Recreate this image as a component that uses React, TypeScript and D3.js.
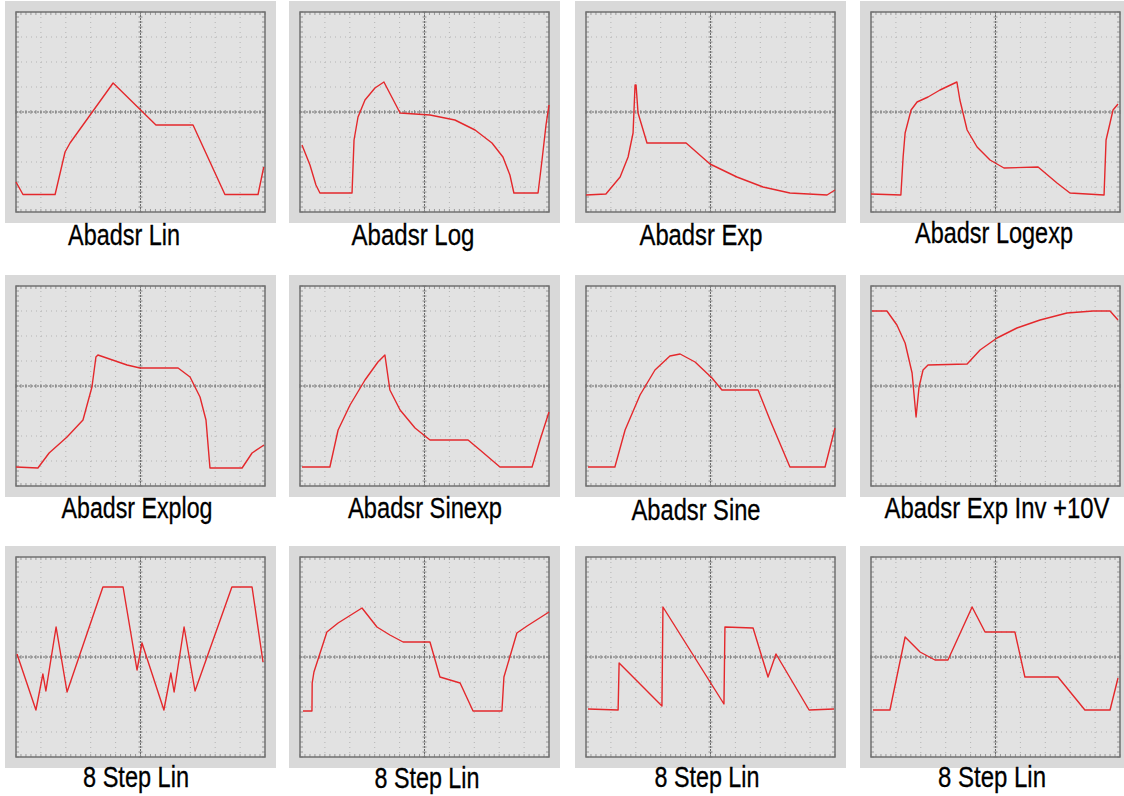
import React, { useEffect, useRef } from 'react';
import * as d3 from 'd3';

// Traces in scope divisions: x 0..10, y -4..4 (0 = centre line)
const abadsrLin = [[0, -2.8], [0.28, -3.3], [1.57, -3.3], [1.97, -1.6], [2.17, -1.24], [3.9, 1.16], [5.62, -0.52], [7.11, -0.52], [8.39, -3.3], [9.72, -3.3], [9.95, -2.2]];
const abadsrLog = [[0.08, -1.32], [0.4, -2.12], [0.64, -2.92], [0.8, -3.24], [2.09, -3.24], [2.17, -1.12], [2.33, -0.2], [2.61, 0.48], [3.01, 0.96], [3.37, 1.2], [4.02, -0.04], [5.22, -0.12], [6.22, -0.32], [7.03, -0.72], [7.71, -1.24], [8.15, -1.8], [8.43, -2.52], [8.59, -3.24], [9.56, -3.24], [9.72, -1.92], [9.88, -0.52], [10, 0.28]];
const abadsrExp = [[0, -3.32], [0.8, -3.28], [1.37, -2.6], [1.69, -1.8], [1.89, -0.84], [1.97, 1.08], [2.01, 1.08], [2.09, -0.04], [2.45, -1.24], [4.02, -1.24], [4.98, -2.08], [6.06, -2.6], [7.11, -3.0], [8.19, -3.24], [9.68, -3.32], [10, -3.12]];
const abadsrLogexp = [[0, -3.28], [1.2, -3.32], [1.29, -1.8], [1.37, -0.84], [1.61, 0.08], [1.85, 0.4], [2.29, 0.6], [2.77, 0.88], [3.45, 1.2], [3.57, 0.48], [3.86, -0.72], [4.26, -1.4], [4.78, -1.92], [5.34, -2.24], [6.71, -2.2], [7.47, -2.84], [7.99, -3.24], [9.36, -3.32], [9.44, -1.12], [9.6, -0.44], [9.72, 0.08], [9.92, 0.32]];
const abadsrExplog = [[0, -3.24], [0.88, -3.28], [1.33, -2.68], [2.05, -2.04], [2.69, -1.36], [3.05, -0.04], [3.21, 1.16], [3.29, 1.24], [4.46, 0.84], [4.98, 0.72], [6.51, 0.72], [6.99, 0.36], [7.39, -0.44], [7.63, -1.36], [7.79, -3.28], [9.08, -3.28], [9.48, -2.68], [9.96, -2.36]];
const abadsrSinexp = [[0.08, -3.24], [1.2, -3.24], [1.53, -1.76], [2.01, -0.76], [2.61, 0.24], [3.13, 0.96], [3.41, 1.24], [3.61, -0.16], [4.02, -0.96], [4.62, -1.68], [5.22, -2.16], [6.75, -2.16], [7.23, -2.56], [8.03, -3.24], [9.32, -3.24], [9.64, -2.16], [10, -1.04]];
const abadsrSine = [[0.08, -3.24], [1.16, -3.24], [1.57, -1.76], [2.17, -0.36], [2.77, 0.64], [3.37, 1.2], [3.78, 1.28], [4.38, 0.96], [5.06, 0.32], [5.46, -0.16], [6.91, -0.16], [7.39, -1.36], [8.19, -3.24], [9.6, -3.24], [10, -1.68]];
const abadsrExpInv = [[0.04, 3.0], [0.64, 3.0], [1.04, 2.44], [1.37, 1.72], [1.65, 0.52], [1.81, -1.24], [1.93, -0.04], [2.09, 0.64], [2.29, 0.84], [3.86, 0.88], [4.38, 1.44], [5.06, 1.92], [5.86, 2.32], [6.79, 2.64], [7.87, 2.92], [8.92, 3.0], [9.6, 3.0], [9.92, 2.64]];
const step8A = [[0.04, 0.12], [0.8, -2.12], [1.08, -0.68], [1.2, -1.36], [1.61, 1.2], [2.05, -1.4], [3.49, 2.8], [4.3, 2.8], [4.86, -0.52], [5.06, 0.56], [5.94, -2.12], [6.22, -0.64], [6.35, -1.4], [6.75, 1.2], [7.19, -1.36], [8.67, 2.8], [9.48, 2.8], [9.92, -0.2]];
const step8B = [[0.12, -2.16], [0.48, -2.16], [0.49, -1.04], [0.56, -0.6], [1.08, 1.0], [1.53, 1.36], [2.49, 1.96], [3.09, 1.2], [3.61, 0.88], [4.14, 0.6], [5.22, 0.6], [5.62, -0.8], [6.43, -1.04], [6.95, -2.16], [8.11, -2.16], [8.19, -0.8], [8.71, 0.96], [9.12, 1.24], [10, 1.8]];
const step8C = [[0.08, -2.08], [1.29, -2.12], [1.33, -0.24], [3.05, -1.96], [3.09, 2.0], [5.54, -1.88], [5.58, 1.2], [6.71, 1.16], [7.31, -0.8], [7.63, 0.12], [8.96, -2.12], [9.96, -2.08]];
const step8D = [[0.08, -2.12], [0.76, -2.12], [1.37, 0.8], [1.97, 0.2], [2.57, -0.12], [3.09, -0.12], [4.06, 2.0], [4.58, 1.0], [5.78, 1.0], [6.18, -0.8], [7.51, -0.8], [8.59, -2.12], [9.6, -2.12], [9.92, -0.84]];

const traces = [abadsrLin, abadsrLog, abadsrExp, abadsrLogexp, abadsrExplog, abadsrSinexp, abadsrSine, abadsrExpInv, step8A, step8B, step8C, step8D];
const labels = ['Abadsr Lin', 'Abadsr Log', 'Abadsr Exp', 'Abadsr Logexp', 'Abadsr Explog', 'Abadsr Sinexp', 'Abadsr Sine', 'Abadsr Exp Inv +10V', '8 Step Lin', '8 Step Lin', '8 Step Lin', '8 Step Lin'];

// layout
const colLeft = [16, 300, 586, 871];
const rowTop = [12, 286, 557];
const plotW = 249;
const plotH = 200;
const pad = 11;
const labelCx = [124, 413, 701, 994, 137, 425, 696, 997, 136, 427, 707, 992];
const labelW = [112, 123, 123, 158, 151, 154, 129, 225, 106, 105, 105, 108];
const labelDy = [233, 233, 233, 231, 232, 232, 234, 232, 230, 231, 230, 230];

export default function App() {
  const svgRef = useRef(null);

  useEffect(() => {
    const svg = d3.select(svgRef.current);
    svg.selectAll('*').remove();

    const xScale = d3.scaleLinear().domain([0, 10]).range([0, plotW]);
    const yScale = d3.scaleLinear().domain([-4, 4]).range([plotH, 0]);
    const line = d3.line().x(d => xScale(d[0])).y(d => yScale(d[1]));

    traces.forEach((trace, i) => {
      const col = i % 4;
      const row = Math.floor(i / 4);
      const g = svg.append('g')
        .attr('transform', `translate(${colLeft[col]},${rowTop[row]})`);

      // outer frame
      g.append('rect')
        .attr('x', -pad).attr('y', -pad)
        .attr('width', plotW + pad * 2).attr('height', plotH + pad * 2)
        .attr('fill', '#d9d9d9');

      g.append('rect')
        .attr('width', plotW).attr('height', plotH)
        .attr('fill', '#e2e2e2');

      // minor grid
      d3.range(1, 10).filter(v => v !== 5).forEach(v => {
        g.append('line')
          .attr('x1', xScale(v)).attr('x2', xScale(v))
          .attr('y1', 0).attr('y2', plotH)
          .attr('stroke', '#b4b4b4').attr('stroke-width', 1)
          .attr('stroke-dasharray', '1,4');
      });
      d3.range(-3, 4).filter(v => v !== 0).forEach(v => {
        g.append('line')
          .attr('x1', 0).attr('x2', plotW)
          .attr('y1', yScale(v)).attr('y2', yScale(v))
          .attr('stroke', '#b4b4b4').attr('stroke-width', 1)
          .attr('stroke-dasharray', '1,4');
      });

      // centre lines
      g.append('line')
        .attr('x1', xScale(5)).attr('x2', xScale(5))
        .attr('y1', 0).attr('y2', plotH)
        .attr('stroke', '#6a6a6a').attr('stroke-width', 1)
        .attr('stroke-dasharray', '2,1');
      g.append('line')
        .attr('x1', 0).attr('x2', plotW)
        .attr('y1', yScale(0)).attr('y2', yScale(0))
        .attr('stroke', '#6a6a6a').attr('stroke-width', 1)
        .attr('stroke-dasharray', '2,1');

      // small ticks on centre lines and border
      const tx = d3.range(0, 10.01, 0.2);
      const ty = d3.range(-4, 4.01, 0.2);
      tx.forEach(v => {
        const x = xScale(v);
        g.append('line').attr('x1', x).attr('x2', x)
          .attr('y1', yScale(0) - 2).attr('y2', yScale(0) + 2)
          .attr('stroke', '#7a7a7a').attr('stroke-width', 0.8);
        g.append('line').attr('x1', x).attr('x2', x)
          .attr('y1', 0).attr('y2', 3)
          .attr('stroke', '#8a8a8a').attr('stroke-width', 0.8);
        g.append('line').attr('x1', x).attr('x2', x)
          .attr('y1', plotH - 3).attr('y2', plotH)
          .attr('stroke', '#8a8a8a').attr('stroke-width', 0.8);
      });
      ty.forEach(v => {
        const y = yScale(v);
        g.append('line').attr('x1', xScale(5) - 2).attr('x2', xScale(5) + 2)
          .attr('y1', y).attr('y2', y)
          .attr('stroke', '#7a7a7a').attr('stroke-width', 0.8);
        g.append('line').attr('x1', 0).attr('x2', 3)
          .attr('y1', y).attr('y2', y)
          .attr('stroke', '#8a8a8a').attr('stroke-width', 0.8);
        g.append('line').attr('x1', plotW - 3).attr('x2', plotW)
          .attr('y1', y).attr('y2', y)
          .attr('stroke', '#8a8a8a').attr('stroke-width', 0.8);
      });

      // border
      g.append('rect')
        .attr('width', plotW).attr('height', plotH)
        .attr('fill', 'none')
        .attr('stroke', '#707070').attr('stroke-width', 1.5);

      // trace
      g.append('path')
        .datum(trace)
        .attr('fill', 'none')
        .attr('stroke', '#e4282c')
        .attr('stroke-width', 1.4)
        .attr('stroke-linejoin', 'round')
        .attr('d', line);

      // label: condensed by scaling the glyphs horizontally to the measured width
      const label = svg.append('text')
        .attr('text-anchor', 'middle')
        .style('font-family', '"Liberation Sans", Arial, sans-serif')
        .style('font-size', '29px')
        .style('fill', '#000')
        .style('stroke', '#000')
        .style('stroke-width', '0.3px')
        .text(labels[i]);
      const natural = label.node().getComputedTextLength() || labelW[i];
      const sx = labelW[i] / natural;
      label.attr('transform', `translate(${labelCx[i]},${rowTop[row] + labelDy[i]}) scale(${sx},1)`);
    });
  }, []);

  return (
    <div>
      <style>{'body{margin:0;background:#fff}'}</style>
      <svg ref={svgRef} width={1124} height={796} style={{ display: 'block' }}></svg>
    </div>
  );
}
